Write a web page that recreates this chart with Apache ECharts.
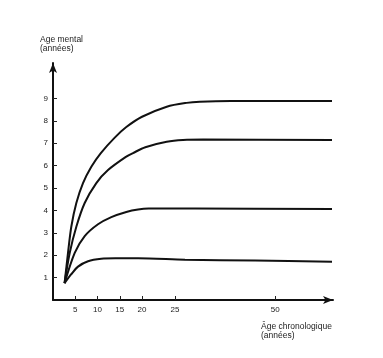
<!DOCTYPE html>
<html><head><meta charset="utf-8">
<script src="https://cdn.jsdelivr.net/npm/echarts@6/dist/echarts.min.js"></script>
<style>html,body{margin:0;padding:0;background:#fff}#c{width:383px;height:358px}</style>
</head><body><div id="c"></div>
<script>
// Data: [age (years), mental age (years)]
var legers   = [[2.6,0.75],[3.37,2.10],[4.11,3.27],[5.24,4.33],[6.74,5.22],[8.61,5.95],[10.7,6.55],[13.87,7.25],[16.47,7.72],[20,8.18],[23.75,8.63],[27.9,8.80],[31.2,8.85],[39,8.88],[64.2,8.88]];
var moderes  = [[2.6,0.75],[3.75,2.10],[5.24,3.27],[7.12,4.33],[9.73,5.22],[12.36,5.80],[16.47,6.40],[17.98,6.56],[20.5,6.82],[23.75,7.06],[27,7.14],[32,7.16],[64.2,7.14]];
var severes  = [[2.6,0.75],[4.88,2.10],[7.12,2.85],[10.11,3.38],[13.1,3.70],[16.47,3.93],[19.1,4.04],[21.0,4.08],[30,4.08],[64.2,4.06]];
var profonds = [[2.6,0.75],[4.1,1.15],[5.62,1.49],[7.87,1.73],[10.85,1.84],[14,1.86],[19.1,1.86],[27.5,1.80],[45,1.76],[64.2,1.71]];
var seriesNames = ['Légers (Q.I. 50-70)','Modérés (Q.I. 35-50)','Sévères (Q.I. 20-35)','Profonds (Q.I. en dessous de 20)'];
var xTickAges = [5,10,15,20,25,50];
var yTickValues = [1,2,3,4,5,6,7,8,9];

// The printed age axis is stretched between 20 and 25: piecewise position scale
function pos(a){
  if (a <= 20) return a;
  if (a <= 25) return 20 + (a-20)*7.4/5;
  return 27.4 + (a-25)*0.9;
}
function mapData(d){ return d.map(function(p){ return [pos(p[0]), p[1]]; }); }
var xTickPos = xTickAges.map(pos);

var chart = echarts.init(document.getElementById('c'));
var font = 'Liberation Sans, Arial, sans-serif';
function mk(name, data){
  var d = mapData(data);
  var items = d.map(function(p,i){
    if (i === d.length-1) return {value:p, label:{show:true, position:'top', align:'right', distance:5, formatter:name, fontSize:8, fontFamily:font, color:'#222'}};
    return p;
  });
  return {type:'line', name:name, data:items, smooth:0.3, showSymbol:false, symbol:'none',
    lineStyle:{color:'#111', width:2}, silent:true, animation:false,
    label:{show:false}};
}
chart.setOption({
  animation:false,
  grid:{left:53, right:50, top:63, bottom:58},
  xAxis:{type:'value', min:0, max:62.9,
    axisLine:{lineStyle:{color:'#111', width:2}, symbol:['none','arrow'], symbolSize:[6,10]},
    axisTick:{show:true, inside:true, length:4, lineStyle:{color:'#222', width:1}, customValues:xTickPos},
    axisLabel:{fontSize:8, fontFamily:font, color:'#222', margin:6, customValues:xTickPos,
      formatter:function(v){ for (var i=0;i<xTickPos.length;i++){ if (Math.abs(xTickPos[i]-v)<1e-6) return String(xTickAges[i]); } return ''; }},
    splitLine:{show:false}},
  yAxis:{type:'value', min:0, max:10.58,
    axisLine:{show:true, lineStyle:{color:'#111', width:2}, symbol:['none','arrow'], symbolSize:[6,10]},
    axisTick:{show:true, inside:true, length:4, lineStyle:{color:'#222', width:1}, customValues:yTickValues},
    axisLabel:{fontSize:8, fontFamily:font, color:'#222', margin:5, customValues:yTickValues},
    splitLine:{show:false}},
  graphic:[
    {type:'text', left:40, top:35, style:{text:'Age mental\n(années)', fontSize:8.5, lineHeight:9, fontFamily:font, fill:'#222'}},
    {type:'text', left:261, top:322, style:{text:'Âge chronologique\n(années)', fontSize:8.5, lineHeight:9, fontFamily:font, fill:'#222'}}
  ],
  series:[mk(seriesNames[0],legers), mk(seriesNames[1],moderes), mk(seriesNames[2],severes), mk(seriesNames[3],profonds)]
});
</script></body></html>
